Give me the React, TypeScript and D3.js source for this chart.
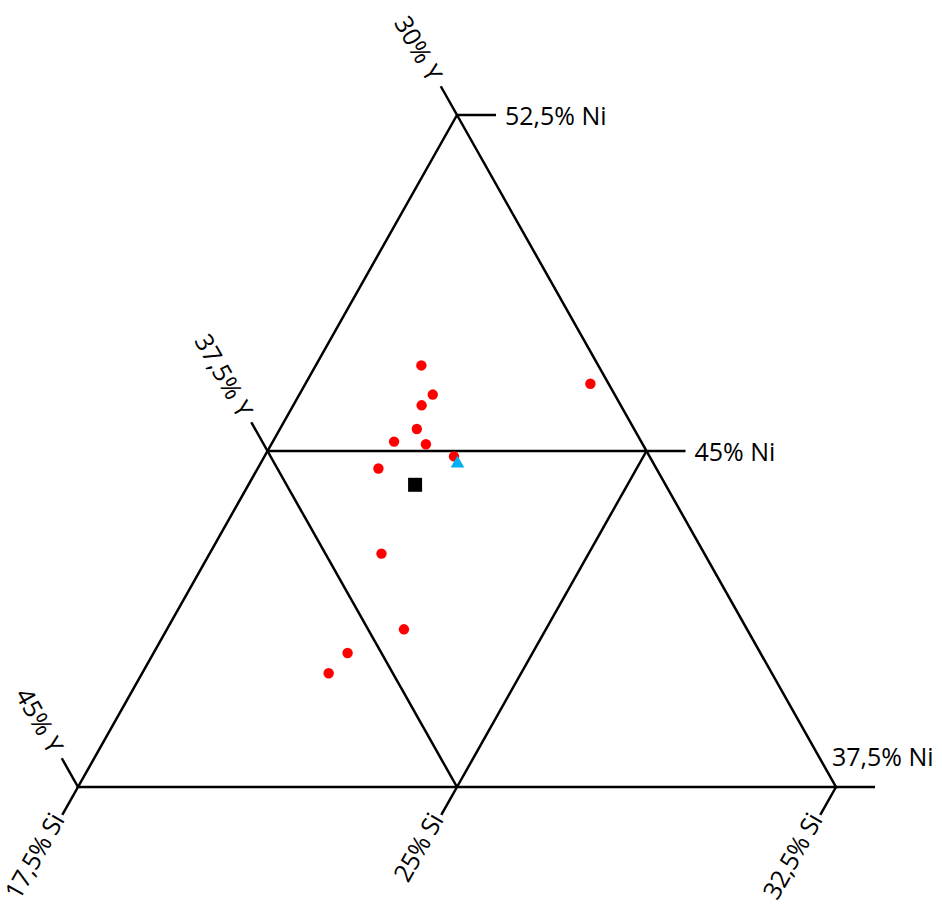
import React from "react";
import * as d3 from "d3";

// Ternary data (Ni %, Si %, Y %)
const redNi = [46.91, 46.26, 46.02, 45.49, 45.21, 45.15, 44.88, 44.61, 42.71, 41.02, 40.49, 40.04, 46.5];
const redSi = [19.59, 20.14, 20.04, 20.21, 19.9, 20.56, 21.25, 19.89, 20.9, 22.19, 21.34, 21.19, 23.14];
const redY = [33.5, 33.6, 33.94, 34.3, 34.89, 34.29, 33.87, 35.5, 36.39, 36.79, 38.17, 38.77, 30.36];
const blueNi = [44.72];
const blueSi = [21.4];
const blueY = [33.88];
const blackNi = [44.25];
const blackSi = [20.8];
const blackY = [34.96];

const niTicks = [52.5, 45, 37.5];
const siTicks = [17.5, 25, 32.5];
const yTicks = [30, 37.5, 45];
const niLabels = ["52,5% Ni", "45% Ni", "37,5% Ni"];
const siLabels = ["17,5% Si", "25% Si", "32,5% Si"];
const yLabels = ["30% Y", "37,5% Y", "45% Y"];

const W = 942;
const H = 919;
const A = { x: 457, y: 115 }; // top: Ni max
const B = { x: 78, y: 787 }; // bottom-left: Y max
const C = { x: 836, y: 787 }; // bottom-right: Si max

const wNi = d3.scaleLinear().domain([37.5, 52.5]).range([0, 1]);
const wSi = d3.scaleLinear().domain([17.5, 32.5]).range([0, 1]);
const wY = d3.scaleLinear().domain([30, 45]).range([0, 1]);

function proj(ni: number, si: number, y: number): [number, number] {
  const a = wNi(ni), b = wY(y), c = wSi(si);
  const s = a + b + c;
  return [(A.x * a + B.x * b + C.x * c) / s, (A.y * a + B.y * b + C.y * c) / s];
}

const FONT = "'Open Sans', sans-serif";
const SW = 2.5;

export default function App() {
  const line = d3.line();
  const edge = line([proj(52.5, 17.5, 30), proj(37.5, 17.5, 45), proj(37.5, 32.5, 30), proj(52.5, 17.5, 30)]) || "";
  const grid = [
    [proj(45, 17.5, 37.5), proj(45, 25, 30)],
    [proj(37.5, 25, 37.5), proj(45, 25, 30)],
    [proj(45, 17.5, 37.5), proj(37.5, 25, 37.5)],
  ];
  const len = Math.hypot(A.x - B.x, A.y - B.y);
  const dSi: [number, number] = [(B.x - A.x) / len, (B.y - A.y) / len]; // down-left
  const dY: [number, number] = [(B.x - A.x) / len, -(B.y - A.y) / len]; // up-left
  const pSi: [number, number] = [-dSi[1], dSi[0]]; // perpendicular (down-right)
  const ang = (Math.atan2(B.y - A.y, A.x - B.x) * 180) / Math.PI; // ~60.6

  const tri = d3.symbol().type(d3.symbolTriangle).size(80)() || "";

  return (
    <div style={{ position: "fixed", left: 0, top: 0, width: W, height: H, background: "#fff" }}>
      <svg width={W} height={H} style={{ display: "block" }}>
        <g fill="none" stroke="#000" strokeWidth={SW} strokeLinecap="butt" strokeLinejoin="miter">
          <path d={edge} />
          {grid.map((g, i) => (
            <path key={i} d={line(g as [number, number][]) || ""} />
          ))}
          {niTicks.map((v, i) => {
            const p = proj(v, 17.5 + 52.5 - v, 30);
            return <path key={"n" + i} d={line([p, [p[0] + 39, p[1]]]) || ""} />;
          })}
          {siTicks.map((v, i) => {
            const p = proj(37.5, v, 62.5 - v);
            return <path key={"s" + i} d={line([p, [p[0] + dSi[0] * 32, p[1] + dSi[1] * 32]]) || ""} />;
          })}
          {yTicks.map((v, i) => {
            const p = proj(82.5 - v, 17.5, v);
            return <path key={"y" + i} d={line([p, [p[0] + dY[0] * 33, p[1] + dY[1] * 33]]) || ""} />;
          })}
        </g>
        <g fontFamily={FONT} fontSize={25} fill="#000">
          {niTicks.map((v, i) => {
            const p = proj(v, 17.5 + 52.5 - v, 30);
            if (i === niTicks.length - 1) {
              return (
                <text key={"nl" + i} x={p[0] - 4} y={p[1] - 31} dominantBaseline="central">
                  {niLabels[i]}
                </text>
              );
            }
            return (
              <text key={"nl" + i} x={p[0] + 48} y={p[1]} dominantBaseline="central">
                {niLabels[i]}
              </text>
            );
          })}
          {siTicks.map((v, i) => {
            const p = proj(37.5, v, 62.5 - v);
            const q = [p[0] + dSi[0] * 35 + pSi[0] * 5, p[1] + dSi[1] * 35 + pSi[1] * 5];
            return (
              <text
                key={"sl" + i}
                transform={`translate(${q[0]},${q[1]}) rotate(${-ang})`}
                textAnchor="end"
                dominantBaseline="central"
                letterSpacing={-0.4}
              >
                {siLabels[i]}
              </text>
            );
          })}
          {yTicks.map((v, i) => {
            const p = proj(82.5 - v, 17.5, v);
            const q = [p[0] + dY[0] * 42, p[1] + dY[1] * 42];
            return (
              <text
                key={"yl" + i}
                transform={`translate(${q[0]},${q[1]}) rotate(${ang})`}
                textAnchor="end"
                dominantBaseline="central"
              >
                {yLabels[i]}
              </text>
            );
          })}
        </g>
        <g>
          {blackNi.map((v, i) => {
            const p = proj(v, blackSi[i], blackY[i]);
            return <rect key={"k" + i} x={p[0] - 7} y={p[1] - 7} width={14} height={14} fill="#000" />;
          })}
          {redNi.map((v, i) => {
            const p = proj(v, redSi[i], redY[i]);
            return <circle key={"r" + i} cx={p[0]} cy={p[1]} r={5.2} fill="#FF0000" />;
          })}
          {blueNi.map((v, i) => {
            const p = proj(v, blueSi[i], blueY[i]);
            return <path key={"b" + i} d={tri} transform={`translate(${p[0]},${p[1]})`} fill="#00B0F0" />;
          })}
        </g>
      </svg>
    </div>
  );
}
